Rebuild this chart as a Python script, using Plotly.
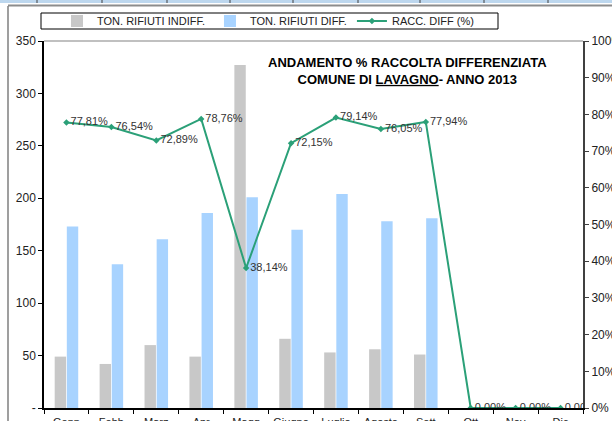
import plotly.graph_objects as go

months = ["Genn", "Febb", "Marz", "Apr", "Magg", "Giugno", "Luglio", "Agosto", "Sett", "Ott", "Nov", "Dic"]
ton_indiff = [49, 42, 60, 49, 327, 66, 53, 56, 51, None, None, None]
ton_diff = [173, 137, 161, 186, 201, 170, 204, 178, 181, None, None, None]
racc_diff = [0.7781, 0.7654, 0.7289, 0.7876, 0.3814, 0.7215, 0.7914, 0.7605, 0.7794, 0.0, 0.0, 0.0]
left_ticks = [0, 50, 100, 150, 200, 250, 300, 350]
left_ticktext = ["-", "50", "100", "150", "200", "250", "300", "350"]

FONT = "Liberation Sans"
pct_labels = [f"{v*100:.2f}%".replace(".", ",") for v in racc_diff]

fig = go.Figure()
fig.add_trace(go.Bar(x=months, y=ton_indiff, name="TON. RIFIUTI INDIFF.",
                     marker=dict(color="#C8C8C8", line=dict(width=0))))
fig.add_trace(go.Bar(x=months, y=ton_diff, name="TON. RIFIUTI DIFF.",
                     marker=dict(color="#A8D3FF", line=dict(width=0))))
fig.add_trace(go.Scatter(x=months, y=racc_diff, name="RACC. DIFF (%)", yaxis="y2",
                         mode="lines+markers+text", text=pct_labels,
                         textposition="middle right",
                         textfont=dict(family=FONT, size=11, color="#333333"),
                         line=dict(color="#2BA078", width=2),
                         marker=dict(symbol="diamond", size=5, color="#2BA078")))

W, H = 612, 421
L, R, T, B = 44, 583, 41, 408


def px(xp):
    return (xp - L) / (R - L)


def py(yp):
    return (B - yp) / (B - T)


shapes = [
    # top gridline (350)
    dict(type="line", xref="paper", yref="paper", x0=0, x1=1, y0=1, y1=1,
         line=dict(color="#C0C0C0", width=2), layer="below"),
    # legend box
    dict(type="rect", xref="paper", yref="paper", x0=px(41), x1=px(498), y0=py(29), y1=py(13),
         line=dict(color="#000000", width=1)),
    # frame decorations
    dict(type="rect", xref="paper", yref="paper", x0=px(0), x1=px(612), y0=py(3), y1=py(0),
         line=dict(width=0), fillcolor="#BDD7EE"),
    dict(type="line", xref="paper", yref="paper", x0=px(8), x1=px(612), y0=py(5.5), y1=py(5.5),
         line=dict(color="#8C8C8C", width=2)),
    dict(type="line", xref="paper", yref="paper", x0=px(8), x1=px(8), y0=py(421), y1=py(6),
         line=dict(color="#7F7F7F", width=1.5)),
]
for xd in [37, 102, 167, 230, 293, 358, 420, 484, 548]:
    shapes.append(dict(type="line", xref="paper", yref="paper", x0=px(xd), x1=px(xd),
                       y0=py(3), y1=py(0), line=dict(color="#404040", width=1)))

fig.update_layout(
    width=W, height=H,
    margin=dict(l=L, r=W - R, t=T, b=H - B, autoexpand=False),
    paper_bgcolor="white", plot_bgcolor="white",
    font=dict(family=FONT, size=11, color="#222222"),
    barmode="group", bargap=0.46, bargroupgap=0.06,
    showlegend=True,
    legend=dict(orientation="h", x=px(57), y=py(21), xanchor="left", yanchor="middle",
                font=dict(family=FONT, size=11, color="#222222"),
                bgcolor="rgba(0,0,0,0)", borderwidth=0,
                itemwidth=30, tracegroupgap=0),
    xaxis=dict(type="category", showline=True, linecolor="#000000", linewidth=1.5,
               ticks="outside", ticklen=4, tickcolor="#000000", tickson="boundaries",
               ticklabelstandoff=3,
               showgrid=False, automargin=False, range=[-0.5, 11.5],
               tickfont=dict(family=FONT, size=11, color="#222222")),
    yaxis=dict(range=[0, 350], tickvals=left_ticks, ticktext=left_ticktext,
               showline=True, linecolor="#000000", linewidth=1.5,
               ticks="outside", ticklen=4, tickcolor="#000000",
               showgrid=False, zeroline=False, automargin=False,
               tickfont=dict(family=FONT, size=12, color="#222222")),
    yaxis2=dict(range=[0, 1], overlaying="y", side="right", dtick=0.1, tickformat=".0%",
                showline=True, linecolor="#404040", linewidth=2,
                ticks="outside", ticklen=4, tickcolor="#404040",
                showgrid=False, zeroline=False, automargin=False,
                tickfont=dict(family=FONT, size=12, color="#222222")),
    shapes=shapes,
    annotations=[dict(text="<b>ANDAMENTO % RACCOLTA DIFFERENZIATA<br>COMUNE DI <u>LAVAGNO</u>- ANNO 2013</b>",
                      xref="paper", yref="paper", x=px(407), y=py(71), xanchor="center", yanchor="middle",
                      showarrow=False, font=dict(family=FONT, size=13, color="#000000"))],
)

fig.write_html("out.html", config={"displayModeBar": False},
               post_script="document.body.style.margin='0';document.body.style.overflow='hidden';")
